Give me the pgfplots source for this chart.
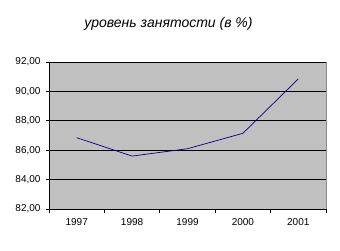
\documentclass[border=0pt]{standalone}
\usepackage{pgfplots}
\pgfplotsset{compat=1.18}
\usepackage{fontspec}
\setmainfont{Liberation Sans}
\definecolor{plotbg}{HTML}{C0C0C0}
\definecolor{navyline}{HTML}{000080}
\begin{document}
\begin{tikzpicture}
\begin{axis}[
  scale only axis,
  width=277pt, height=147pt,
  xmin=0.5, xmax=5.5,
  ymin=82, ymax=92,
  ytick={82,84,...,92},
  xtick={1,2,3,4,5},
  xticklabels={1997,1998,1999,2000,2001},
  minor xtick={0.5,1.5,...,5.5},
  major x tick style={draw=none},
  minor tick length=4pt,
  major tick length=3pt,
  tick align=outside,
  axis x line*=bottom,
  axis y line*=left,
  axis line style={black, line width=0.8pt, -},
  tick style={black, line width=0.8pt},
  ymajorgrids,
  grid style={black, line width=0.9pt},
  axis background/.style={fill=plotbg, draw=gray!90, line width=0.8pt},
  tick label style={font=\fontsize{10}{12}\selectfont},
  /pgf/number format/assume math mode=true,
  yticklabel style={/pgf/number format/fixed, /pgf/number format/fixed zerofill, /pgf/number format/precision=2, /pgf/number format/use comma, xshift=-2pt},
  xticklabel style={yshift=-3pt},
  clip=false,
]
\addplot[navyline, line width=0.7pt] coordinates {
  (1,86.85) (2,85.6) (3,86.1) (4,87.15) (5,90.85)
};
\node[anchor=base, font=\fontsize{14}{16}\selectfont\itshape] at ([xshift=-19pt,yshift=34pt]rel axis cs:0.5,1) {уровень занятости (в \%)};
\end{axis}
\pgfresetboundingbox
\path ([xshift=-49pt,yshift=-41pt]current axis.south west) rectangle ([xshift=14pt,yshift=62pt]current axis.north east);
\end{tikzpicture}
\end{document}
